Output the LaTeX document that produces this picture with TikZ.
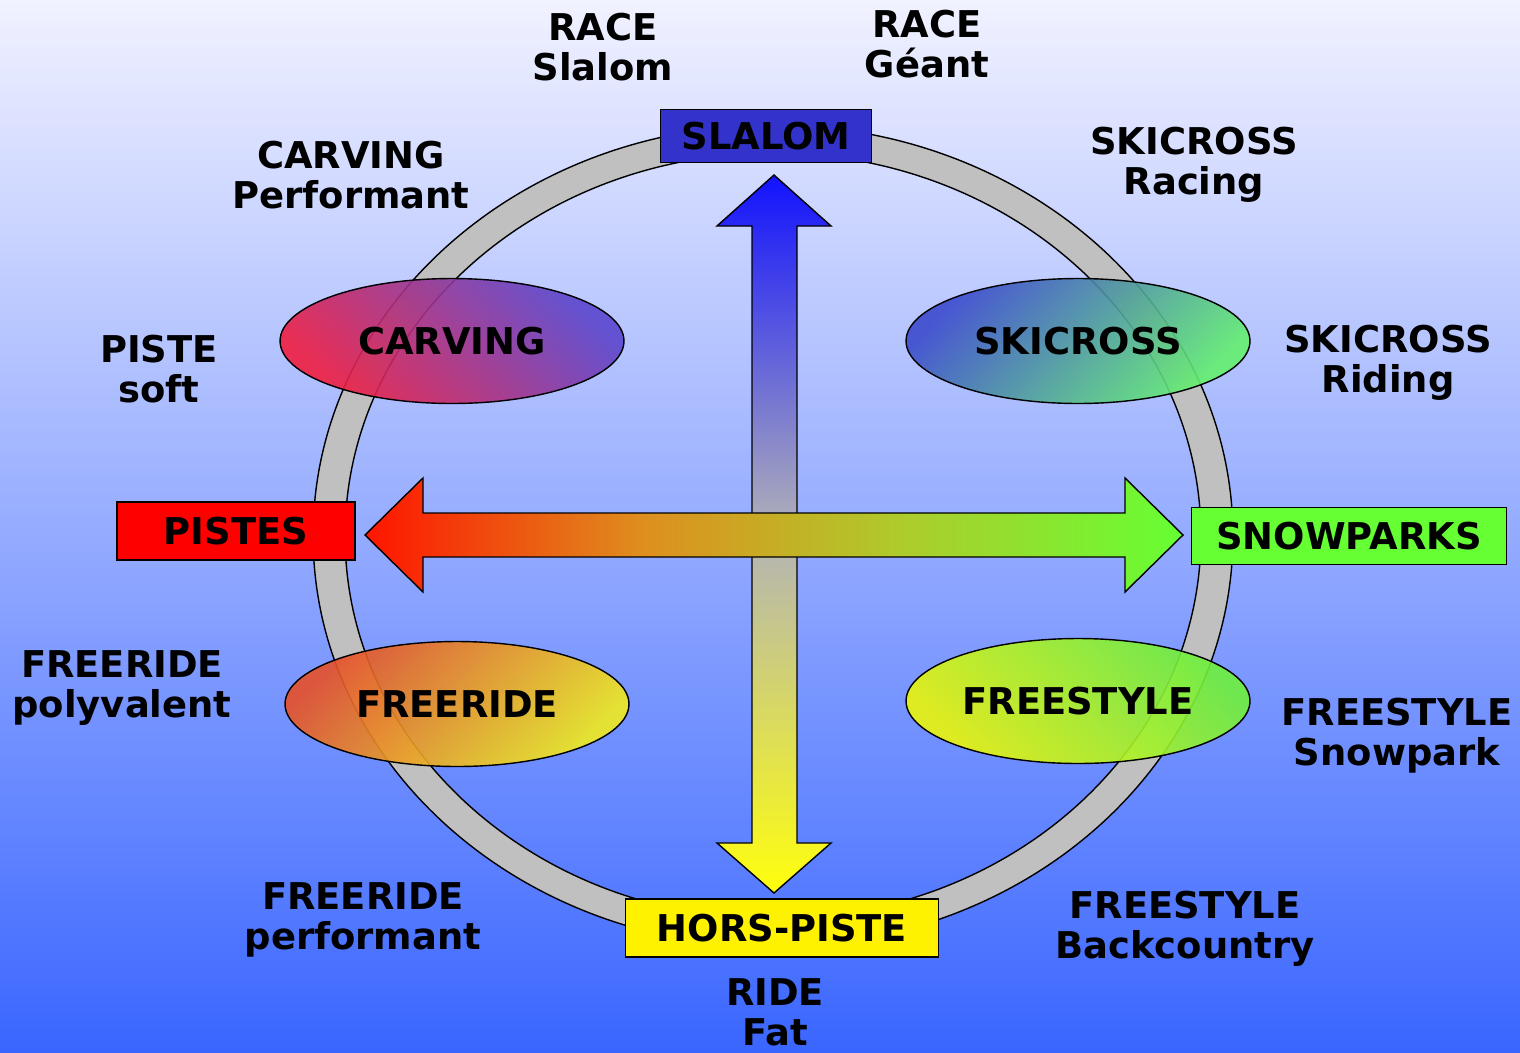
\documentclass[tikz,border=0pt]{standalone}
\usepackage{fontspec}
\setmainfont{DejaVu Sans}
\usetikzlibrary{shapes.geometric}

\definecolor{bgtop}{RGB}{241,242,255}
\definecolor{bgbottom}{RGB}{58,102,255}
\definecolor{ringgray}{RGB}{192,192,192}
\definecolor{slalomblue}{RGB}{51,51,204}
\definecolor{parkgreen}{RGB}{102,255,51}
\definecolor{carvA}{RGB}{240,30,65}
\definecolor{carvB}{RGB}{90,70,205}
\definecolor{crossA}{RGB}{60,75,205}
\definecolor{crossB}{RGB}{100,240,110}
\definecolor{rideA}{RGB}{230,80,40}
\definecolor{rideB}{RGB}{240,235,30}
\definecolor{styleA}{RGB}{235,245,10}
\definecolor{styleB}{RGB}{110,240,60}

\pgfdeclarehorizontalshading{pistepark}{100bp}{rgb(0bp)=(1,0.08,0); rgb(25bp)=(1,0.08,0); rgb(42bp)=(0.87,0.56,0.12); rgb(58bp)=(0.68,0.8,0.17); rgb(75bp)=(0.4,1,0.2); rgb(100bp)=(0.4,1,0.2)}
\pgfdeclareverticalshading{slalomhors}{100bp}{rgb(0bp)=(1,1,0.05); rgb(25bp)=(1,1,0.05); rgb(50bp)=(0.7,0.7,0.72); rgb(75bp)=(0.07,0.07,1); rgb(100bp)=(0.07,0.07,1)}

\newcommand{\skifont}{\bfseries\fontsize{21}{22.9}\selectfont}

\tikzset{
  box/.style={rectangle, draw, line width=0.8pt, inner sep=0pt, font=\skifont},
  blob/.style={ellipse, draw, line width=0.8pt, inner sep=0pt, minimum width=6.88cm, minimum height=2.5cm, fill opacity=0.9, text opacity=1, font=\skifont},
  sidetext/.style={align=center, inner sep=0pt, anchor=north, font=\skifont},
}

\begin{document}
\begin{tikzpicture}[x=0.02cm, y=-0.02cm]
    \useasboundingbox (0, 0) rectangle (1520, 1052);
    \shade[top color=bgtop, bottom color=bgbottom] (0, 0) rectangle (1520, 1052);

    % Ring
    \coordinate (hub) at (773, 536);
    \draw[fill=ringgray, even odd rule, line width=0.8pt] (hub) ellipse [x radius=9.2cm, y radius=8.22cm] (hub) ellipse [x radius=8.56cm, y radius=7.66cm];

    % Disciplines
    \node[blob, left color=carvA, right color=carvB, shading angle=135] at (452, 341) (carving) {CARVING};
    \node[blob, left color=crossA, right color=crossB, shading angle=45] at (1078, 341) (skicross) {SKICROSS};
    \node[blob, left color=rideA, right color=rideB, shading angle=45] at (457, 704) (freeride) {FREERIDE};
    \node[blob, left color=styleA, right color=styleB, shading angle=135] at (1078, 701) (freestyle) {FREESTYLE};

    % Terrains
    \node[box, fill=slalomblue, minimum width=4.22cm, minimum height=1.06cm] at (766, 136) (slalom) {SLALOM};
    \node[box, fill=red, minimum width=4.76cm, minimum height=1.16cm] at (236, 531) (pistes) {PISTES};
    \node[box, fill=parkgreen, minimum width=6.3cm, minimum height=1.14cm] at (1349, 536) (snowparks) {SNOWPARKS};
    \node[box, fill=yellow, minimum width=6.26cm, minimum height=1.16cm] at (782, 928) (horspiste) {HORS-PISTE};

    % Axes
    \shadedraw[shading=slalomhors, line width=0.8pt] (774, 175) -- (831, 226) -- (797, 226) -- (797, 843) -- (831, 843) -- (774, 893) -- (717, 843) -- (752, 843) -- (752, 226) -- (717, 226) -- cycle;
    \shadedraw[shading=pistepark, line width=0.8pt] (365, 535) -- (423, 478) -- (423, 513) -- (1125, 513) -- (1125, 478) -- (1183, 535) -- (1125, 592) -- (1125, 557) -- (423, 557) -- (423, 592) -- cycle;

    % Side labels
    \node[sidetext] at (603, 13) (raceslalom) {RACE\\Slalom};
    \node[sidetext] at (927, 10) (racegeant) {RACE\\Géant};
    \node[sidetext] at (351, 141) (carvperf) {CARVING\\Performant};
    \node[sidetext] at (1194, 127) (crossracing) {SKICROSS\\Racing};
    \node[sidetext] at (159, 335) (pistesoft) {PISTE\\soft};
    \node[sidetext] at (1388, 325) (crossriding) {SKICROSS\\Riding};
    \node[sidetext] at (122, 650) (ridepoly) {FREERIDE\\polyvalent};
    \node[sidetext] at (1397, 698) (stylepark) {FREESTYLE\\Snowpark};
    \node[sidetext] at (363, 882) (rideperf) {FREERIDE\\performant};
    \node[sidetext] at (1185, 891) (styleback) {FREESTYLE\\Backcountry};
    \node[sidetext] at (775, 978) (ridefat) {RIDE\\Fat};
\end{tikzpicture}
\end{document}
